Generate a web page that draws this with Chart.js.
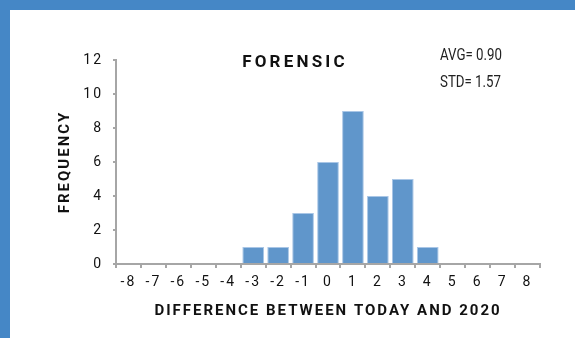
<!DOCTYPE html>
<html>
<head>
<meta charset="utf-8">
<script src="https://cdn.jsdelivr.net/npm/chart.js@4/dist/chart.umd.min.js"></script>
<style>
  html, body { margin: 0; padding: 0; background: #fff; }
  #wrap { position: relative; width: 575px; height: 338px; box-sizing: border-box;
          border-top: 10px solid #4587c6; border-left: 10px solid #4587c6; background: #fff; }
  #c { display: block; }
</style>
</head>
<body>
<div id="wrap"><canvas id="c" width="565" height="328"></canvas></div>
<script>
const categories = ['-8','-7','-6','-5','-4','-3','-2','-1','0','1','2','3','4','5','6','7','8'];
const frequency  = [0, 0, 0, 0, 0, 1, 1, 3, 6, 9, 4, 5, 1, 0, 0, 0, 0];
const yTicks     = [0, 2, 4, 6, 8, 10, 12];
const chartTitle = 'FORENSIC';
const statsLines = ['AVG= 0.90', 'STD= 1.57'];
const xTitle = 'DIFFERENCE BETWEEN TODAY AND 2020';
const yTitle = 'FREQUENCY';

const NARROW = "Roboto, 'Liberation Sans', sans-serif";
const BOLD = "Roboto, 'Liberation Sans', sans-serif";
const AXIS = '#a6a6a6';

const spacing = {
  id: 'spacing',
  beforeLayout(chart) { chart.ctx.letterSpacing = '2px'; },
  beforeDraw(chart) { chart.ctx.letterSpacing = '2px'; }
};
const annot = {
  id: 'annot',
  afterDraw(chart) {
    const ctx = chart.ctx, a = chart.chartArea;
    ctx.save();
    ctx.fillStyle = '#111';
    ctx.letterSpacing = '3.2px';
    ctx.font = "bold 17px " + BOLD;
    ctx.textAlign = 'center';
    ctx.textBaseline = 'middle';
    ctx.fillText(chartTitle, (a.left + a.right) / 2 - 33, a.top + 3);
    ctx.restore();
    ctx.save();
    ctx.letterSpacing = '0px';
    ctx.font = "16px " + NARROW;
    ctx.textAlign = 'left';
    ctx.textBaseline = 'middle';
    ctx.fillStyle = '#222';
    statsLines.forEach((s, i) => {
      ctx.save();
      ctx.translate(a.right - 100, a.top - 4 + i * 27);
      ctx.scale(0.83, 1);
      ctx.fillText(s, 0, 0);
      ctx.restore();
    });
    ctx.restore();
  }
};

new Chart(document.getElementById('c'), {
  type: 'bar',
  data: {
    labels: categories,
    datasets: [{
      data: frequency,
      backgroundColor: '#6096cb',
      borderColor: '#a9c6e6',
      borderWidth: 1,
      barPercentage: 0.87,
      categoryPercentage: 1.0
    }]
  },
  plugins: [spacing, annot],
  options: {
    responsive: false,
    animation: false,
    layout: { padding: { top: 50, right: 35, left: 0, bottom: 0 } },
    plugins: { legend: { display: false }, tooltip: { enabled: false } },
    scales: {
      x: {
        offset: true,
        grid: { offset: true, drawOnChartArea: false, drawTicks: true, tickLength: 4, color: AXIS, lineWidth: 2 },
        border: { display: true, color: AXIS, width: 2 },
        ticks: { color: '#111', font: { family: NARROW, size: 14 }, padding: 6, maxRotation: 0, autoSkip: false },
        title: { display: true, text: xTitle, color: '#111', font: { family: BOLD, size: 15, weight: 'bold' }, padding: { top: 4, bottom: 18 } },
        afterFit(s) { s.height = 74; }
      },
      y: {
        min: 0, max: 12,
        afterBuildTicks(s) { s.ticks = yTicks.map(v => ({ value: v })); },
        grid: { drawOnChartArea: false, drawTicks: true, tickLength: 3, color: AXIS, lineWidth: 2 },
        border: { display: true, color: AXIS, width: 2 },
        ticks: { color: '#111', font: { family: NARROW, size: 14 }, padding: 10 },
        title: { display: true, text: yTitle, color: '#111', font: { family: BOLD, size: 15, weight: 'bold' }, padding: { top: 46, bottom: 4 } },
        afterFit(s) { s.width = 106; }
      }
    }
  }
});
</script>
</body>
</html>
